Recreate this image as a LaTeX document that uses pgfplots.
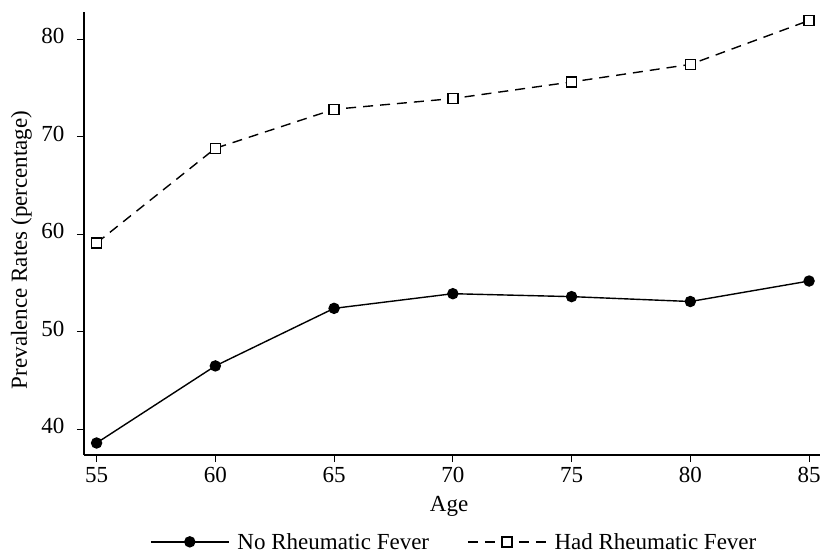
\documentclass[border=0pt]{standalone}
\usepackage{pgfplots}
\pgfplotsset{compat=1.18}
\usepackage{fontspec}
\setmainfont{Liberation Serif}
\begin{document}
\begin{tikzpicture}
\path[use as bounding box] (0,0) rectangle (820pt,555pt);
\begin{axis}[
  at={(84pt,100pt)}, anchor=south west,
  scale only axis, width=736pt, height=443pt,
  xmin=54.47, xmax=85.46, ymin=37.37, ymax=82.77,
  axis x line*=bottom, axis y line*=left,
  axis line style={line width=1.2pt},
  xtick={55,60,...,85}, ytick={40,50,...,80},
  tick align=outside, major tick length=7pt,
  tick style={line width=1pt, black},
  /pgf/number format/assume math mode=true,
  font=\fontsize{23}{26}\selectfont,
  ticklabel style={font=\fontsize{23}{26}\selectfont},
  xticklabel style={yshift=-2pt},
  yticklabel style={xshift=-9pt, yshift=3pt},
  xlabel={Age}, ylabel={Prevalence Rates (percentage)},
  xlabel style={at={(axis description cs:0.496,-0.115)}, anchor=center},
  ylabel style={at={(axis description cs:-0.085,0.463)}, anchor=center},
  legend style={at={(axis description cs:0.503,-0.196)}, anchor=center, draw=none, fill=none,
    font=\fontsize{23}{26}\selectfont, inner sep=0pt,
    /tikz/every even column/.append style={column sep=36pt},
    /tikz/every odd column/.append style={column sep=6pt}},
  legend columns=2,
  legend cell align=left,
  legend image code/.code={\draw[mark repeat=2,mark phase=2,#1] plot coordinates {(0pt,0pt) (39pt,0pt) (78pt,0pt)};},
]
\addplot[black, line width=1.4pt, mark=*, mark size=5pt, mark options={solid, fill=black}]
  coordinates {(55,38.6) (60,46.5) (65,52.4) (70,53.9) (75,53.6) (80,53.1) (85,55.2)};
\addlegendentry{No Rheumatic Fever}
\addplot[black, line width=1.4pt, dash pattern=on 10pt off 7pt, mark=square*, mark size=5pt, mark options={solid, fill=white, draw=black, line width=1.4pt}]
  coordinates {(55,59.1) (60,68.8) (65,72.8) (70,73.9) (75,75.6) (80,77.4) (85,81.9)};
\addlegendentry{Had Rheumatic Fever}
\end{axis}
\end{tikzpicture}
\end{document}
